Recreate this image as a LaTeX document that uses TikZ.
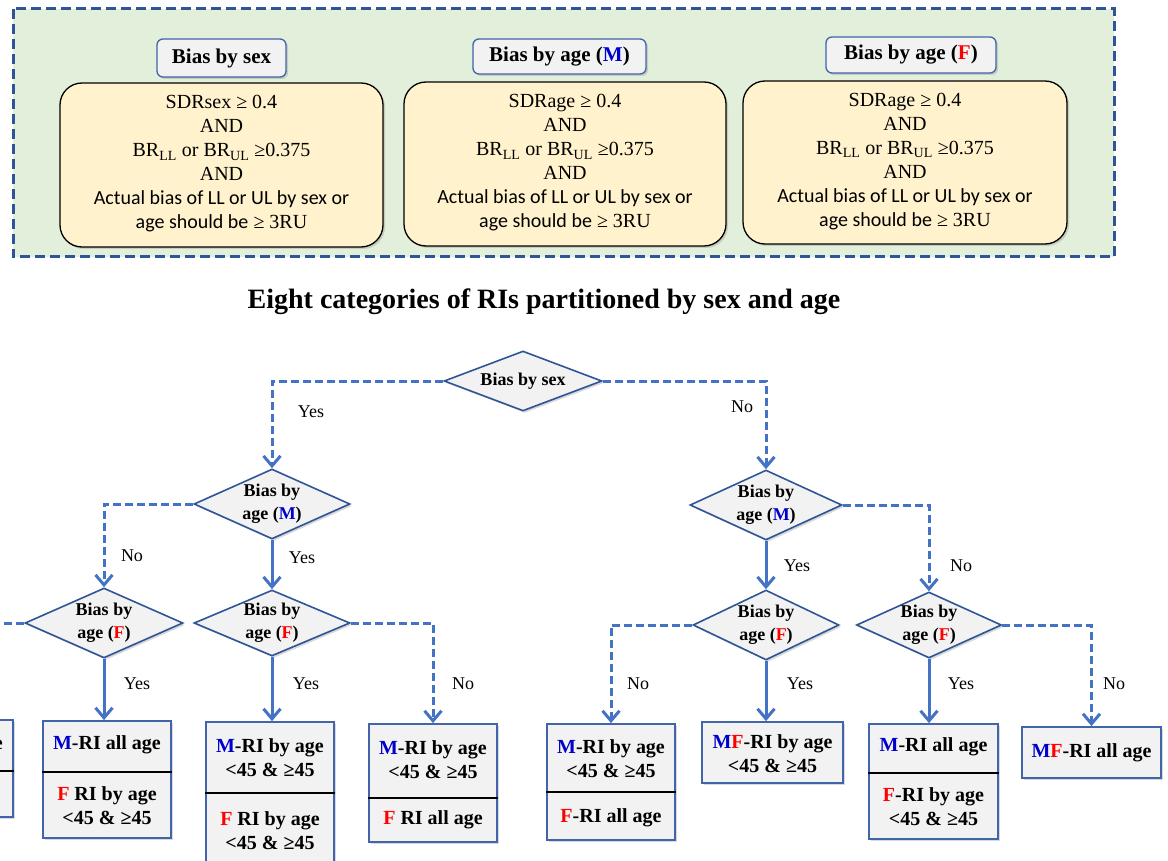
\documentclass[tikz,border=0pt]{standalone}
\usepackage{fontspec}
\setmainfont{Liberation Serif}
\newfontfamily\tnr{Liberation Serif}
\newfontfamily\carl{Carlito}
\usetikzlibrary{shapes.geometric,arrows.meta,shadows}
\definecolor{gfill}{RGB}{226,239,218}
\definecolor{dblue}{RGB}{47,85,151}
\definecolor{lblue}{RGB}{68,114,196}
\definecolor{bblue}{RGB}{65,100,170}
\definecolor{yfill}{RGB}{255,242,204}
\definecolor{pfill}{RGB}{242,242,242}
\definecolor{mblue}{RGB}{0,0,204}
\definecolor{fred}{RGB}{255,0,0}
\newcommand{\Mc}{\textcolor{mblue}{M}}
\newcommand{\Fc}{\textcolor{fred}{F}}
\tikzset{
  shd/.style={drop shadow={opacity=0.3,shadow xshift=2pt,shadow yshift=-2pt}},
  outerbox/.style={draw=dblue, line width=3pt, dash pattern=on 10pt off 5pt, fill=gfill},
  titlebox/.style={draw=bblue, line width=1.3pt, fill=pfill, rounded corners=6pt, shd, inner sep=0pt, font=\tnr\fontsize{21}{24}\selectfont\bfseries},
  condbox/.style={draw=black, line width=1.3pt, fill=yfill, rounded corners=22pt, shd, inner sep=0pt},
  condtext/.style={align=center, font=\tnr\fontsize{20}{24}\selectfont},
  dia/.style={diamond, draw=dblue, line width=1.6pt, fill=pfill, inner sep=0pt, shd},
  dtxt/.style={align=center, font=\tnr\fontsize{18}{23}\selectfont\bfseries},
  rbox/.style={rectangle, draw=bblue, line width=1.8pt, fill=pfill, shd, inner sep=0pt},
  btxt/.style={align=center, font=\tnr\fontsize{20}{24}\selectfont\bfseries},
  divl/.style={line width=2.4pt, black},
  yn/.style={font=\tnr\fontsize{18}{20}\selectfont},
  flow/.style={draw=lblue, line width=3pt, -{Straight Barb[length=10pt,width=17pt]}},
  flowd/.style={flow, dash pattern=on 8pt off 4pt},
}
\begin{document}
\begin{tikzpicture}[x=1pt,y=-1pt]
\useasboundingbox (0,0) rectangle (1168,861);
\clip (0,0) rectangle (1168,861);

% ---------- top panel ----------
\draw[outerbox] (13,9) rectangle (1114,257);

\node[titlebox, minimum width=129pt, minimum height=38pt] (T1) at (221.5,58) {Bias by sex};
\node[titlebox, minimum width=173pt, minimum height=35pt] (T2) at (559.5,56.5) {Bias by age (\Mc)};
\node[titlebox, minimum width=170pt, minimum height=36pt] (T3) at (911,55) {Bias by age (\Fc)};

\node[condbox, minimum width=323pt, minimum height=164pt] (C1) at (221.5,165) {};
\node[condbox, minimum width=322pt, minimum height=164pt] (C2) at (565,164) {};
\node[condbox, minimum width=324pt, minimum height=163pt] (C3) at (905,162.5) {};

\node[condtext] (CT1) at (221.5,164) {SDRsex ≥ 0.4\\AND\\BR\textsubscript{LL} or BR\textsubscript{UL} ≥0.375\\AND\\{\carl Actual bias of LL or UL by sex or}\\{\carl age should be} ≥ 3RU};
\node[condtext] (CT2) at (565,163) {SDRage ≥ 0.4\\AND\\BR\textsubscript{LL} or BR\textsubscript{UL} ≥0.375\\AND\\{\carl Actual bias of LL or UL by sex or}\\{\carl age should be} ≥ 3RU};
\node[condtext] (CT3) at (905,161.5) {SDRage ≥ 0.4\\AND\\BR\textsubscript{LL} or BR\textsubscript{UL} ≥0.375\\AND\\{\carl Actual bias of LL or UL by sex or}\\{\carl age should be} ≥ 3RU};

% ---------- heading ----------
\node[font=\tnr\fontsize{28}{32}\selectfont\bfseries] (H) at (544,302) {Eight categories of RIs partitioned by sex and age};

% ---------- diamonds ----------
\node[dia, minimum width=158pt, minimum height=60pt] (D0) at (523,381) {};
\node[dia, minimum width=156pt, minimum height=70pt] (D1) at (272,504) {};
\node[dia, minimum width=152pt, minimum height=70pt] (D2) at (766,505) {};
\node[dia, minimum width=158pt, minimum height=70pt] (D3) at (104,623) {};
\node[dia, minimum width=156pt, minimum height=66pt] (D4) at (272,623) {};
\node[dia, minimum width=146pt, minimum height=70pt] (D5) at (766,625) {};
\node[dia, minimum width=145pt, minimum height=66pt] (D6) at (929,625) {};

\node[dtxt] (D0t) at (D0) {Bias by sex};
\node[dtxt] (D1t) at (D1) {Bias by\\age (\Mc)};
\node[dtxt] (D2t) at (D2) {Bias by\\age (\Mc)};
\node[dtxt] (D3t) at (D3) {Bias by\\age (\Fc)};
\node[dtxt] (D4t) at (D4) {Bias by\\age (\Fc)};
\node[dtxt] (D5t) at (D5) {Bias by\\age (\Fc)};
\node[dtxt] (D6t) at (D6) {Bias by\\age (\Fc)};

% ---------- result boxes ----------
\node[rbox, minimum width=128pt, minimum height=97pt] (L0) at (-51,768.5) {};
\node[rbox, minimum width=128pt, minimum height=117pt] (B1) at (107,779.5) {};
\node[rbox, minimum width=128pt, minimum height=158pt] (B2) at (270,801) {};
\node[rbox, minimum width=128pt, minimum height=118pt] (B3) at (433,783) {};
\node[rbox, minimum width=128pt, minimum height=116pt] (B4) at (611,782) {};
\node[rbox, minimum width=141pt, minimum height=61pt] (B5) at (772.5,752.5) {};
\node[rbox, minimum width=129pt, minimum height=115pt] (B6) at (933.5,781.5) {};
\node[rbox, minimum width=139pt, minimum height=51pt] (B7) at (1091.5,752.5) {};

\draw[divl] (L0.west |- 0,771) -- (L0.east |- 0,771);
\draw[divl] (B1.west |- 0,772) -- (B1.east |- 0,772);
\draw[divl] (B2.west |- 0,793) -- (B2.east |- 0,793);
\draw[divl] (B3.west |- 0,798) -- (B3.east |- 0,798);
\draw[divl] (B4.west |- 0,792) -- (B4.east |- 0,792);
\draw[divl] (B6.west |- 0,773) -- (B6.east |- 0,773);

\node[btxt] (L0a) at (-51,745) {\Mc-RI all age};
\node[btxt] (L0b) at (-51,794) {\Fc-RI all age};
\node[btxt] (B1a) at (107,745) {\Mc-RI all age};
\node[btxt] (B1b) at (107,806) {\Fc{} RI by age\\<45 \& ≥45};
\node[btxt] (B2a) at (270,758) {\Mc-RI by age\\<45 \& ≥45};
\node[btxt] (B2b) at (270,831) {\Fc{} RI by age\\<45 \& ≥45};
\node[btxt] (B3a) at (433,760) {\Mc-RI by age\\<45 \& ≥45};
\node[btxt] (B3b) at (433,820) {\Fc{} RI all age};
\node[btxt] (B4a) at (611,759) {\Mc-RI by age\\<45 \& ≥45};
\node[btxt] (B4b) at (611,818) {\Fc-RI all age};
\node[btxt] (B5a) at (772.5,754) {\Mc\Fc-RI by age\\<45 \& ≥45};
\node[btxt] (B6a) at (933.5,747) {\Mc-RI all age};
\node[btxt] (B6b) at (933.5,807) {\Fc-RI by age\\<45 \& ≥45};
\node[btxt] (B7a) at (1091.5,753) {\Mc\Fc-RI all age};

% ---------- connectors ----------
\draw[flowd] (D0.west) -| (D1.north);
\draw[flowd] (D0.east) -| (D2.north);
\draw[flowd] (D1.west) -| (D3.north);
\draw[flow] (D1.south) -- (D4.north);
\draw[flowd] (D3.west) -| (L0.north);
\draw[flow] (D3.south) -- (D3.south |- B1.north);
\draw[flow] (D4.south) -- (D4.south |- B2.north);
\draw[flowd] (D4.east) -| (B3.north);
\draw[flow] (D2.south) -- (D5.north);
\draw[flowd] (D2.east) -| (D6.north);
\draw[flowd] (D5.west) -| (B4.north);
\draw[flow] (D5.south) -- (D5.south |- B5.north);
\draw[flow] (D6.south) -- (D6.south |- B6.north);
\draw[flowd] (D6.east) -| (B7.north);

% ---------- yes / no labels ----------
\node[yn] (y0) at (311,412) {Yes};
\node[yn] (n0) at (742,407) {No};
\node[yn] (n1) at (132,556) {No};
\node[yn] (y1) at (302,558) {Yes};
\node[yn] (y3) at (137,684) {Yes};
\node[yn] (y4) at (306,684) {Yes};
\node[yn] (n4) at (463,684) {No};
\node[yn] (y2) at (797,566) {Yes};
\node[yn] (n2) at (961,566) {No};
\node[yn] (n5) at (638,684) {No};
\node[yn] (y5) at (800,684) {Yes};
\node[yn] (y6) at (961,684) {Yes};
\node[yn] (n6) at (1114,684) {No};
\end{tikzpicture}
\end{document}
